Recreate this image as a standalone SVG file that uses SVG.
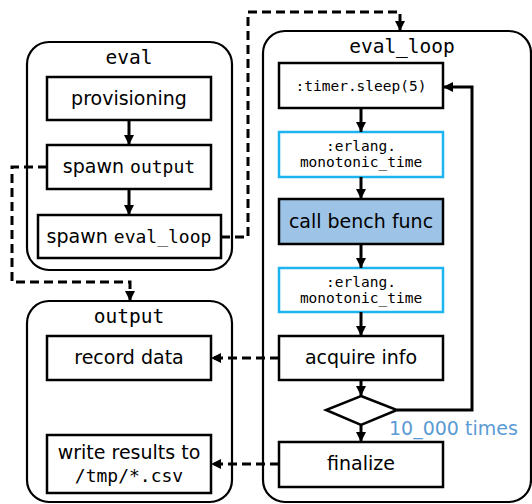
<svg xmlns="http://www.w3.org/2000/svg" width="532" height="504" viewBox="0 0 532 504">
<defs>
<marker id="ah" viewBox="0 0 10 10" refX="10" refY="5" markerWidth="10" markerHeight="10" markerUnits="userSpaceOnUse" orient="auto">
<path d="M0,0 L10,5 L0,10 z" fill="#000"/>
</marker>
</defs>
<style>
.cont{fill:#fff;stroke:#000;stroke-width:2.2}
.box{fill:#fff;stroke:#000;stroke-width:2.5}
.cyan{fill:#fff;stroke:#1CB5F0;stroke-width:2.5}
.blue{fill:#9DC3E6;stroke:#000;stroke-width:2.5}
.sans{font-family:"DejaVu Sans","Liberation Sans",sans-serif;font-size:19px;fill:#000;text-anchor:middle}
.mono{font-family:"DejaVu Sans Mono","Liberation Mono",monospace;fill:#000;text-anchor:middle}
.t{font-size:19.5px}
.m18{font-size:18px}
.m14{font-size:14.5px}
.solid{fill:none;stroke:#000;stroke-width:3}
.dash{fill:none;stroke:#000;stroke-width:3;stroke-dasharray:9 5}
</style>
<rect width="532" height="504" fill="#fff"/>

<g id="eval">
<rect class="cont" x="27" y="42" width="205" height="228" rx="22"/>
<text class="mono t" x="129" y="64">eval</text>
</g>
<g id="provisioning">
<rect class="box" x="47" y="77" width="164" height="43"/>
<text class="sans" x="129" y="105">provisioning</text>
</g>
<g id="spawn_output">
<rect class="box" x="47" y="145" width="164" height="44"/>
<text class="sans" x="129" y="173">spawn <tspan class="mono m18" style="text-anchor:start">output</tspan></text>
</g>
<g id="spawn_eval_loop">
<rect class="box" x="38" y="215" width="183" height="43"/>
<text class="sans" x="129" y="243">spawn <tspan class="mono m18" style="text-anchor:start">eval_loop</tspan></text>
</g>

<g id="output">
<rect class="cont" x="27" y="301" width="205" height="201" rx="22"/>
<text class="mono t" x="129" y="323">output</text>
</g>
<g id="record_data">
<rect class="box" x="47" y="336" width="164" height="44"/>
<text class="sans" x="129" y="364">record data</text>
</g>
<g id="write_results">
<rect class="box" x="47" y="435" width="164" height="58"/>
<text class="sans" x="129" y="459">write results to</text>
<text class="mono m18" x="129" y="482">/tmp/*.csv</text>
</g>

<g id="eval_loop">
<rect class="cont" x="263" y="31" width="268" height="471" rx="22"/>
<text class="mono t" x="402" y="53">eval_loop</text>
</g>
<g id="timer_sleep">
<rect class="box" x="279" y="63" width="164" height="45"/>
<text class="mono m14" x="361" y="91">:timer.sleep(5)</text>
</g>
<g id="monotonic_time_1">
<rect class="cyan" x="279" y="132" width="164" height="45"/>
<text class="mono m14" x="361" y="151">:erlang.</text>
<text class="mono m14" x="361" y="167">monotonic_time</text>
</g>
<g id="call_bench_func">
<rect class="blue" x="279" y="199" width="164" height="45"/>
<text class="sans" x="361" y="228">call bench func</text>
</g>
<g id="monotonic_time_2">
<rect class="cyan" x="279" y="268" width="164" height="44"/>
<text class="mono m14" x="361" y="287">:erlang.</text>
<text class="mono m14" x="361" y="303">monotonic_time</text>
</g>
<g id="acquire_info">
<rect class="box" x="279" y="336" width="164" height="44"/>
<text class="sans" x="361" y="364">acquire info</text>
</g>
<g id="decision">
<polygon class="box" points="361,396 397,410 361,425 326,410"/>
</g>
<g id="finalize">
<rect class="box" x="279" y="442" width="164" height="45"/>
<text class="sans" x="361" y="470">finalize</text>
</g>
<text x="389" y="435" style="font-family:'DejaVu Sans','Liberation Sans',sans-serif;font-size:19px;fill:#5B9BD5">10_000 times</text>

<g id="connectors">
<line class="solid" x1="129" y1="120" x2="129" y2="145" marker-end="url(#ah)"/>
<line class="solid" x1="129" y1="189" x2="129" y2="215" marker-end="url(#ah)"/>
<path class="dash" d="M47,167 H12 V282 H130 V301" marker-end="url(#ah)"/>
<path class="dash" d="M221,237 H248 V12 H400 V31" marker-end="url(#ah)"/>
<line class="solid" x1="361" y1="108" x2="361" y2="132" marker-end="url(#ah)"/>
<line class="solid" x1="361" y1="177" x2="361" y2="199" marker-end="url(#ah)"/>
<line class="solid" x1="361" y1="244" x2="361" y2="268" marker-end="url(#ah)"/>
<line class="solid" x1="361" y1="312" x2="361" y2="336" marker-end="url(#ah)"/>
<line class="solid" x1="361" y1="380" x2="361" y2="396" marker-end="url(#ah)"/>
<line class="solid" x1="361" y1="425" x2="361" y2="442" marker-end="url(#ah)"/>
<path class="solid" d="M397,410 H472 V87 H443" marker-end="url(#ah)"/>
<path class="dash" d="M279,358 H211" marker-end="url(#ah)"/>
<path class="dash" d="M279,464 H211" marker-end="url(#ah)"/>
</g>
</svg>
